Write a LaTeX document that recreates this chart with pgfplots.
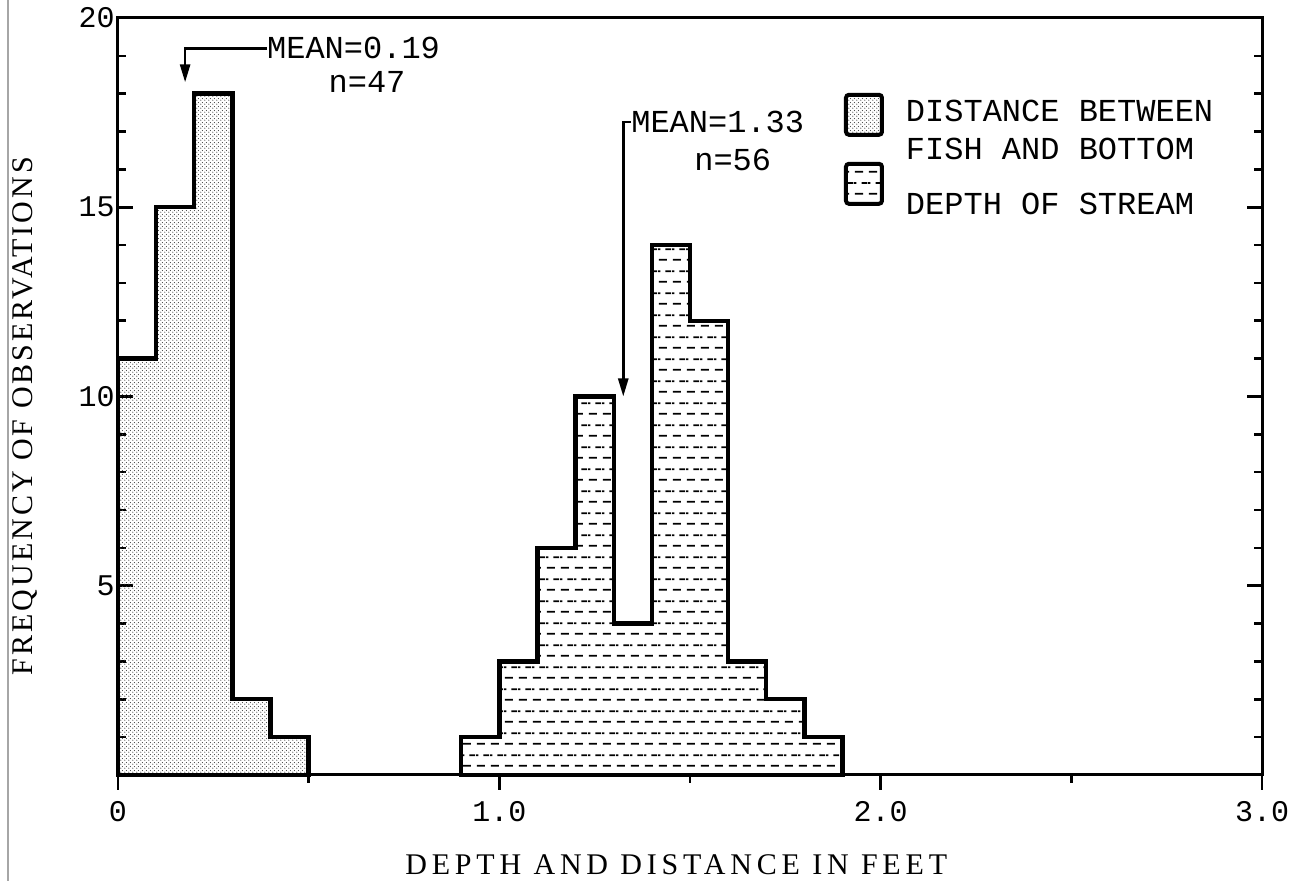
\documentclass[border=0pt]{standalone}
\usepackage{fontspec}
\setmainfont{Liberation Serif}
\newfontfamily\mono{Liberation Mono}
\newfontfamily\xlabelfont[LetterSpace=16]{Liberation Serif}
\newfontfamily\ylabelfont[LetterSpace=10]{Liberation Serif}
\usepackage{pgfplots}
\pgfplotsset{compat=1.18}
\usetikzlibrary{patterns,arrows.meta}

\pgfdeclarepatternformonly{stipple}{\pgfpointorigin}{\pgfpoint{2pt}{2pt}}{\pgfpoint{2pt}{2pt}}{%
  \pgfpathcircle{\pgfpoint{0.5pt}{0.5pt}}{0.35pt}\pgfusepath{fill}%
  \pgfpathcircle{\pgfpoint{1.5pt}{1.5pt}}{0.35pt}\pgfusepath{fill}}
\pgfdeclarepatternformonly{hdash}{\pgfpointorigin}{\pgfpoint{7pt}{11pt}}{\pgfpoint{7pt}{11pt}}{%
  \pgfsetlinewidth{0.9pt}%
  \pgfpathmoveto{\pgfpoint{0.5pt}{2.75pt}}\pgfpathlineto{\pgfpoint{4.8pt}{2.75pt}}%
  \pgfpathmoveto{\pgfpoint{4pt}{8.25pt}}\pgfpathlineto{\pgfpoint{7pt}{8.25pt}}%
  \pgfpathmoveto{\pgfpoint{0pt}{8.25pt}}\pgfpathlineto{\pgfpoint{1.3pt}{8.25pt}}%
  \pgfusepath{stroke}}

\begin{document}
\begin{tikzpicture}
\begin{axis}[
  scale only axis,
  width=572pt, height=378.5pt,
  xmin=0, xmax=3, ymin=0, ymax=20,
  axis line style={line width=1.5pt},
  xtick={0,1,2,3},
  xticklabels={0,1.0,2.0,3.0},
  minor xtick={0.5,1.5,2.5},
  ytick={5,10,15,20},
  yticklabels={5,10,15,20},
  minor ytick={1,2,3,4,6,7,8,9,11,12,13,14,16,17,18,19},
  xtick pos=left, ytick pos=both,
  xtick align=outside, ytick align=inside,
  major tick length=7.5pt, minor tick length=4pt,
  every tick/.style={black, line width=1.3pt},
  tick label style={font=\mono\fontsize{15}{18}\selectfont},
  yticklabel style={inner sep=1.5pt},
  xticklabel style={yshift=-2pt},
  xlabel={DEPTH AND DISTANCE IN FEET},
  ylabel={FREQUENCY OF OBSERVATIONS},
  every axis x label/.style={at={(rel axis cs:0.488,0)}, yshift=-45pt, anchor=center,
    font=\xlabelfont\fontsize{15}{17}\selectfont},
  every axis y label/.style={at={(rel axis cs:0,0.474)}, xshift=-46.5pt, rotate=90, anchor=center,
    font=\ylabelfont\fontsize{15}{17}\selectfont},
  legend style={at={(rel axis cs:0.629,0.907)}, anchor=north west, draw=none, fill=none,
    font=\mono\fontsize{16}{19}\selectfont, nodes={inner sep=0pt},
    row sep=12.5pt, /tikz/every odd column/.append style={column sep=11pt}},
  legend cell align=left,
  clip=false,
]
\addplot[draw=black, line width=2.2pt, line join=miter, pattern=stipple, pattern color=black!75, const plot,
  legend image code/.code={\draw[black, line width=2pt, rounded corners=1.5pt, pattern=stipple, pattern color=black!75] (0pt,-6pt) rectangle (18pt,14pt);}]
  coordinates {(0,0) (0,11) (0.1,15) (0.2,18) (0.3,2) (0.4,1) (0.5,0)} \closedcycle;
\addlegendentry{\smash{\begin{tabular}[t]{@{}l@{}}DISTANCE BETWEEN\\FISH AND BOTTOM\end{tabular}}}
\addplot[draw=black, line width=2.2pt, line join=miter, pattern=hdash, const plot,
  legend image code/.code={\draw[black, line width=2pt, rounded corners=1.5pt, pattern=hdash] (0pt,6pt) rectangle (18pt,26pt);}]
  coordinates {(0.9,0) (0.9,1) (1.0,3) (1.1,6) (1.2,10) (1.3,4) (1.4,14) (1.5,12) (1.6,3) (1.7,2) (1.8,1) (1.9,0)} \closedcycle;
\addlegendentry{\smash{DEPTH OF STREAM}}

% mean annotations
\draw[line width=1.3pt, -{Triangle[length=9pt,width=5pt]}] (axis cs:0.39,19.2) -| (axis cs:0.176,18.3);
\node[anchor=west, inner sep=0pt, font=\mono\fontsize{16}{19}\selectfont] at (axis cs:0.39,19.2) {MEAN=0.19};
\node[inner sep=0pt, font=\mono\fontsize{16}{19}\selectfont] at (axis cs:0.653,18.3) {n=47};
\draw[line width=1.3pt, -{Triangle[length=9pt,width=5pt]}] (axis cs:1.345,17.25) -| (axis cs:1.325,10.0);
\node[anchor=west, inner sep=0pt, font=\mono\fontsize{16}{19}\selectfont] at (axis cs:1.345,17.25) {MEAN=1.33};
\node[inner sep=0pt, font=\mono\fontsize{16}{19}\selectfont] at (axis cs:1.612,16.25) {n=56};

\coordinate (bl) at (rel axis cs:0,0);
\coordinate (tr) at (rel axis cs:1,1);
\end{axis}
\draw[black!35, line width=0.8pt] ([shift={(-55pt,-53pt)}]bl) -- ([shift={(-55pt,387.5pt)}]bl);
\pgfresetboundingbox
\path[use as bounding box] ([shift={(-59pt,-53pt)}]bl) rectangle ([shift={(21pt,9pt)}]tr);
\end{tikzpicture}
\end{document}
